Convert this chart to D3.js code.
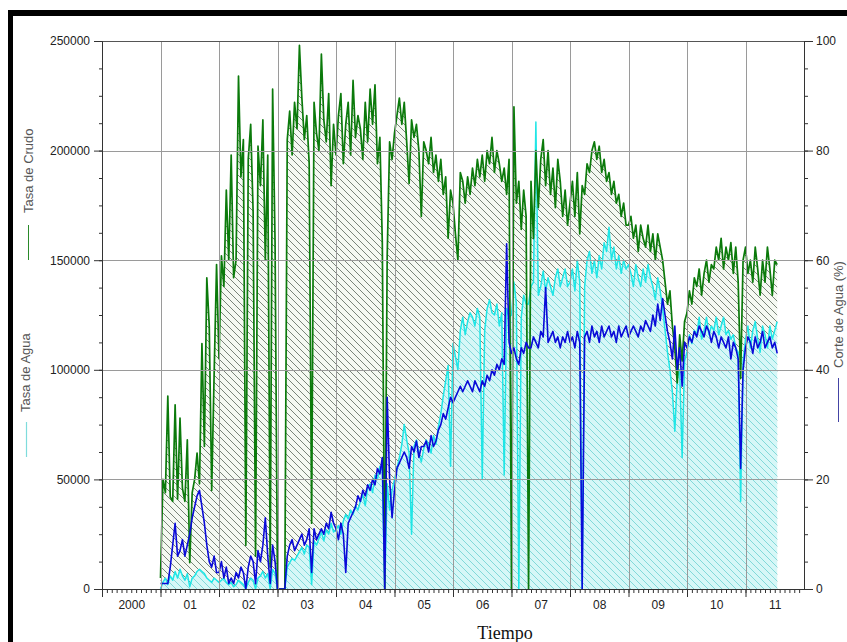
<!DOCTYPE html>
<html><head><meta charset="utf-8">
<script src="https://cdn.jsdelivr.net/npm/d3@7"></script>
<style>body{margin:0;background:#fff}svg{display:block}</style>
</head><body><svg id="c" width="847" height="642"></svg>
<script>
// ---- DATA (semi-monthly readings, starting Jan 2001) ----
const startYear = 2001, perYear = 24;
// Tasa de Crudo (thousands)
const crudo = [
 5,50,44,88,42,40,84,41,78,46,40,68,12,44,50,62,48,112,65,142,120,45,98,148,
 105,152,138,182,150,198,142,150,234,188,205,20,196,212,172,15,202,184,214,150,198,10,228,158,
 0,0,0,0,205,218,198,222,210,248,224,205,216,194,30,222,208,200,244,214,204,226,184,212,
 198,216,226,194,212,222,198,232,206,216,210,196,222,204,228,212,230,194,206,158,0,152,204,196,
 208,216,224,212,222,204,185,214,206,212,200,170,204,200,194,206,190,198,186,196,180,188,160,182,
 176,162,150,190,186,176,188,180,192,184,196,188,198,186,200,194,206,190,200,194,186,192,180,196,
 0,220,176,186,164,182,170,0,186,160,200,174,196,205,184,200,180,192,174,196,186,170,182,166,
 176,186,170,190,162,184,180,194,190,200,204,196,202,190,196,186,190,180,186,176,180,170,176,166,
 166,170,160,166,154,166,160,156,166,154,162,150,162,156,150,140,130,136,120,110,94,116,104,122,
 126,136,130,142,138,146,134,144,150,140,148,146,156,150,160,146,156,150,158,144,156,140,96,150,
 156,144,150,140,156,146,134,150,140,156,146,134,150,148
];
// Tasa de Agua (thousands)
const agua = [
 0,3,5,2,6,4,8,5,9,6,4,7,1,5,6,8,9,8,7,5,4,3,5,4,
 3,4,5,3,2,3,1,2,4,3,2,0,3,5,4,0,5,6,8,5,7,0,9,7,
 0,0,0,0,10,12,14,13,15,17,19,16,20,19,2,22,20,23,26,22,27,25,30,26,
 27,29,25,31,34,32,36,34,38,36,40,43,38,46,48,44,52,50,56,54,0,48,36,45,
 50,55,60,66,75,68,62,25,65,68,62,58,64,68,66,62,70,66,74,80,88,95,102,56,
 112,106,100,118,124,116,122,126,124,120,128,124,50,118,128,132,126,125,130,120,126,52,128,124,
 125,140,130,0,124,134,130,130,138,140,213,134,138,145,136,142,138,134,142,146,138,142,146,138,
 140,146,136,150,140,0,138,150,154,144,150,142,152,146,158,154,165,150,156,146,152,144,150,146,
 148,144,138,148,142,138,146,140,148,142,138,132,142,136,128,118,108,100,90,72,96,100,60,104,
 108,116,112,118,116,124,114,118,124,116,120,118,124,116,120,124,116,118,114,116,110,108,40,104,
 114,120,110,118,122,114,108,120,116,110,120,114,118,122
];
// Corte de Agua (%)
const corte = [
 1,1,1,1,4,8,12,6,7,9,6,8,10,13,15,17,18,15,12,8,5,4,6,3,
 3,5,2,4,1,2,1,3,2,4,3,0,4,6,5,1,7,5,8,13,6,1,8,5,
 0,0,0,0,6,8,9,7,8,9,10,8,9,11,3,11,9,10,11,10,12,11,14,12,
 11,9,12,10,3,12,13,14,15,17,16,18,17,19,18,20,19,22,21,24,0,35,20,13,
 18,22,23,24,25,24,22,26,25,27,24,26,26,27,25,28,26,27,29,30,32,31,33,35,
 34,35,36,37,36,37,38,37,36,38,37,36,38,37,39,38,40,39,41,40,42,41,63,45,
 43,44,42,41,44,43,45,44,44,46,45,44,47,46,55,45,46,47,45,46,44,46,45,47,
 45,46,44,47,45,0,46,47,45,48,46,47,45,48,46,47,48,46,47,45,48,46,47,48,
 46,47,48,47,46,48,47,49,48,47,50,48,52,49,53,50,47,45,42,48,40,44,37,45,
 44,46,45,47,46,48,47,46,48,47,45,47,46,44,46,45,44,46,42,45,44,42,22,40,
 44,46,45,43,46,44,45,47,44,45,46,44,45,43
];
const xTickLabels = ["2000","01","02","03","04","05","06","07","08","09","10","11"];
const leftTicks = [0,50000,100000,150000,200000,250000];
const rightTicks = [0,20,40,60,80,100];

// ---- CHART ----
const svg = d3.select("#c");
const L=102, R=804, T=41, B=589;
const x = d3.scaleLinear().domain([2000,2012]).range([L,R]);
const yL = d3.scaleLinear().domain([0,250000]).range([B,T]);
const yR = d3.scaleLinear().domain([0,100]).range([B,T]);
const tOf = i => startYear + i/perYear;

const defs = svg.append("defs");
function hatch(id,bg,fg){
  const p=defs.append("pattern").attr("id",id).attr("patternUnits","userSpaceOnUse").attr("width",7).attr("height",7);
  p.append("rect").attr("width",7).attr("height",7).attr("fill",bg);
  p.append("path").attr("d","M-1,-1L8,8M-1,6L1,8M6,-1L8,1").attr("stroke",fg).attr("stroke-width",0.9);
}
hatch("hG","#f5f9f2","#6b776b");
hatch("hC","#d6f7f7","#78d6d6");
defs.append("clipPath").attr("id","clip").append("rect").attr("x",L).attr("y",T).attr("width",R-L).attr("height",B-T);

// frame
svg.append("rect").attr("x",8).attr("y",10).attr("width",839).attr("height",6).attr("fill","#000");
svg.append("rect").attr("x",8).attr("y",10).attr("width",5).attr("height",632).attr("fill","#000");

const plot = svg.append("g").attr("clip-path","url(#clip)");
const areaL = arr => d3.area().x((d,i)=>x(tOf(i))).y0(B).y1(d=>yL(d*1000))(arr);
const lineL = arr => d3.line().x((d,i)=>x(tOf(i))).y(d=>yL(d*1000))(arr);
plot.append("path").attr("d",areaL(crudo)).attr("fill","url(#hG)");
plot.append("path").attr("d",areaL(agua)).attr("fill","url(#hC)");

// grid
const grid = svg.append("g").attr("stroke","#9a9a9a").attr("stroke-width",1);
d3.range(2001,2012).forEach(yv=>{
  const px=Math.round(x(yv))+0.5;
  grid.append("line").attr("x1",px).attr("x2",px).attr("y1",T).attr("y2",B);
});
leftTicks.slice(1,-1).forEach(v=>{
  const py=Math.round(yL(v))+0.5;
  grid.append("line").attr("x1",L).attr("x2",R).attr("y1",py).attr("y2",py);
});
svg.append("line").attr("x1",L).attr("x2",R).attr("y1",T+0.5).attr("y2",T+0.5).attr("stroke","#555");

plot.append("path").attr("d",lineL(agua)).attr("fill","none").attr("stroke","#1fe6e6").attr("stroke-width",1.5).attr("stroke-linejoin","round");
plot.append("path").attr("d",lineL(crudo)).attr("fill","none").attr("stroke","#0b7a0b").attr("stroke-width",1.7).attr("stroke-linejoin","round");
plot.append("path").attr("d",d3.line().x((d,i)=>x(tOf(i))).y(d=>yR(d))(corte))
  .attr("fill","none").attr("stroke","#0a0ad8").attr("stroke-width",1.6).attr("stroke-linejoin","round");

// axes
const font='"Liberation Sans", Arial, sans-serif';
function style(g){
  g.selectAll("path,line").attr("stroke","#333");
  g.selectAll("text").attr("font-family",font).attr("font-size",12).attr("fill","#222");
}
svg.append("g").attr("transform",`translate(${L},0)`)
  .call(d3.axisLeft(yL).tickValues(d3.range(0,250001,12500)).tickSize(3).tickFormat("").tickSizeOuter(0)).call(style);
svg.append("g").attr("transform",`translate(${L},0)`)
  .call(d3.axisLeft(yL).tickValues(leftTicks).tickSize(8).tickPadding(4).tickFormat(d3.format("d")).tickSizeOuter(0)).call(style);
svg.append("g").attr("transform",`translate(${R},0)`)
  .call(d3.axisRight(yR).tickValues(d3.range(0,101,5)).tickSize(4).tickFormat("").tickSizeOuter(0)).call(style);
svg.append("g").attr("transform",`translate(${R},0)`)
  .call(d3.axisRight(yR).tickValues(rightTicks).tickSize(9).tickPadding(3).tickFormat(d3.format("d")).tickSizeOuter(0)).call(style);
svg.append("g").attr("transform",`translate(0,${B})`)
  .call(d3.axisBottom(x).tickValues(d3.range(0,144).map(m=>2000+m/12)).tickSize(4).tickFormat("").tickSizeOuter(0)).call(style);
svg.append("g").attr("transform",`translate(0,${B})`)
  .call(d3.axisBottom(x).tickValues(d3.range(2000,2012)).tickSize(8).tickFormat("").tickSizeOuter(0)).call(style);
const xl = svg.append("g").attr("transform",`translate(0,${B})`)
  .call(d3.axisBottom(x).tickValues(xTickLabels.map((d,i)=>2000.5+i)).tickSize(0).tickPadding(11.5).tickFormat((d,i)=>xTickLabels[i])).call(style);
xl.select(".domain").remove();
svg.append("line").attr("x1",L+0.5).attr("x2",L+0.5).attr("y1",B).attr("y2",B+8).attr("stroke","#333");

// titles & keys
function vtext(tx,ty,txt){
  svg.append("text").attr("transform",`translate(${tx},${ty}) rotate(-90)`).attr("text-anchor","start")
    .attr("font-family",font).attr("font-size",13).attr("fill","#555").text(txt);
}
vtext(33,213,"Tasa de Crudo");
vtext(30,412,"Tasa de Agua");
vtext(843,368,"Corte de Agua (%)");
svg.append("line").attr("x1",28.5).attr("x2",28.5).attr("y1",225).attr("y2",260).attr("stroke","#2a8a2a");
svg.append("line").attr("x1",26.5).attr("x2",26.5).attr("y1",422).attr("y2",457).attr("stroke","#7fdcdc").attr("stroke-width",1.2);
svg.append("line").attr("x1",838.5).attr("x2",838.5).attr("y1",378).attr("y2",422).attr("stroke","#4444a4");
svg.append("text").attr("x",505).attr("y",639).attr("text-anchor","middle")
  .attr("font-family",'"Liberation Serif", "Times New Roman", serif').attr("font-size",18).attr("fill","#111").text("Tiempo");
</script></body></html>
